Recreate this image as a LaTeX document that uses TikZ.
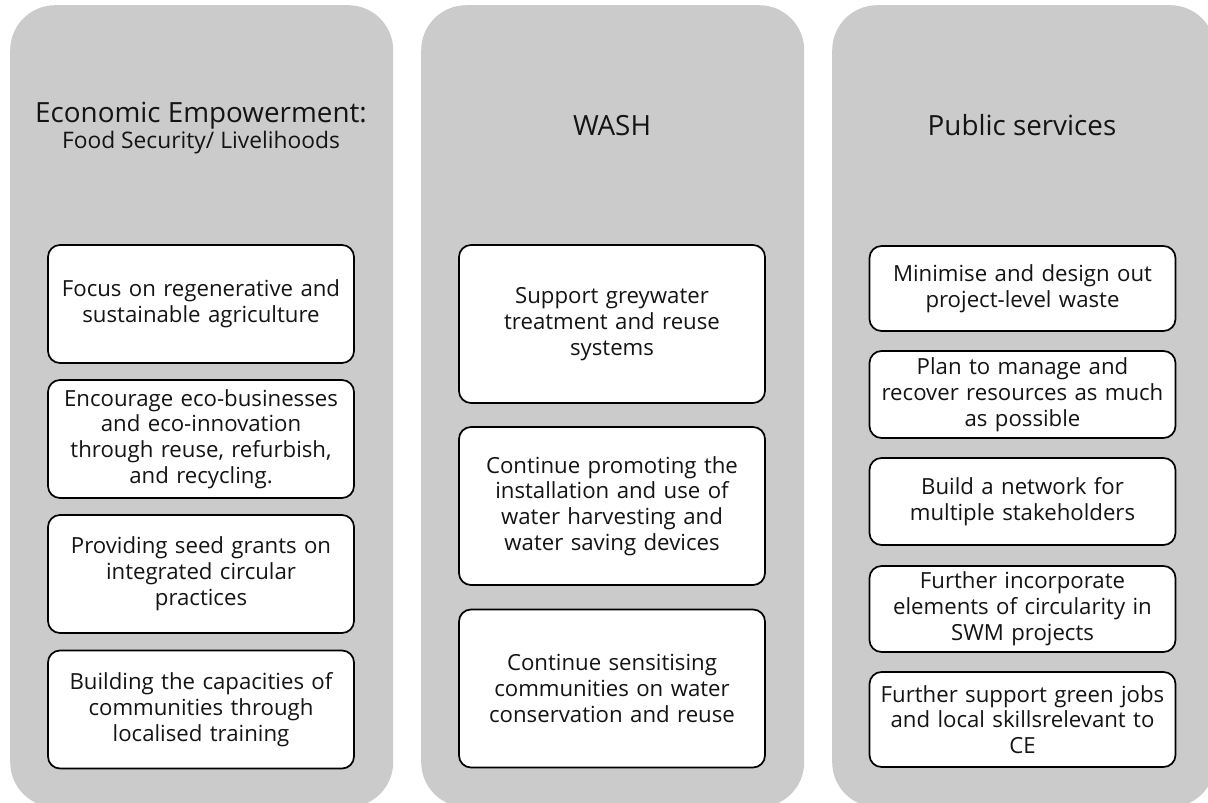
\documentclass[tikz,border=0pt]{standalone}
\usepackage{fontspec}
\setmainfont{Open Sans}
\definecolor{panelgrey}{RGB}{203,203,203}
\definecolor{inktext}{RGB}{20,20,20}
\newcommand\itemfont{\fontsize{22.2}{25.8}\selectfont}
\newcommand\headfont{\fontsize{27.8}{30}\selectfont}
\newcommand\subheadfont{\fontsize{22.8}{25}\selectfont}
\begin{document}
\begin{tikzpicture}[x=1pt,y=-1pt,
  panel/.style={fill=panelgrey, draw=none, rounded corners=45pt,
    minimum width=383pt, minimum height=802pt, anchor=north west, inner sep=0pt},
  item/.style={draw=black, line width=1.7pt, fill=white, rounded corners=12pt,
    text width=306pt, align=center, inner sep=0pt, font=\itemfont, text=inktext},
  heading/.style={anchor=base, inner sep=0pt, text=inktext}]
\useasboundingbox (0,0) rectangle (1208,803);

% three column panels
\node[panel] (p1) at (10,5) {};
\node[panel] (p2) at (421,5) {};
\node[panel] (p3) at (832,5) {};

% column headings
\node[heading, font=\headfont] (h1) at (201,122) {Economic Empowerment:};
\node[heading, font=\subheadfont] (h1b) at (201,148) {Food Security/ Livelihoods};
\node[heading, font=\headfont] (h2) at (612,135) {WASH};
\node[heading, font=\headfont] (h3) at (1022,135) {Public services};

% economic empowerment actions
\node[item, minimum height=118pt] (e1) at (201,304) {Focus on regenerative and\\sustainable agriculture};
\node[item, minimum height=118pt] (e2) at (201,439) {Encourage eco-businesses\\and eco-innovation\\through reuse, refurbish,\\and recycling.};
\node[item, minimum height=118pt] (e3) at (201,574) {Providing seed grants on\\integrated circular\\practices};
\node[item, minimum height=118pt] (e4) at (201,709.5) {Building the capacities of\\communities through\\localised training};

% WASH actions
\node[item, minimum height=158pt] (w1) at (612,324) {Support greywater\\treatment and reuse\\systems};
\node[item, minimum height=158pt] (w2) at (612,506) {Continue promoting the\\installation and use of\\water harvesting and\\water saving devices};
\node[item, minimum height=158pt] (w3) at (612,688.5) {Continue sensitising\\communities on water\\conservation and reuse};

% public services actions
\node[item, minimum height=85pt] (s1) at (1022.5,288.5) {Minimise and design out\\project-level waste};
\node[item, minimum height=87pt] (s2) at (1022.5,394.5) {Plan to manage and\\recover resources as much\\as possible};
\node[item, minimum height=87pt] (s3) at (1022.5,501.5) {Build a network for\\multiple stakeholders};
\node[item, minimum height=86pt] (s4) at (1022.5,609) {Further incorporate\\elements of circularity in\\SWM projects};
\node[item, minimum height=95pt] (s5) at (1022.5,719.5) {Further support green jobs\\and local skillsrelevant to\\CE};
\end{tikzpicture}
\end{document}
